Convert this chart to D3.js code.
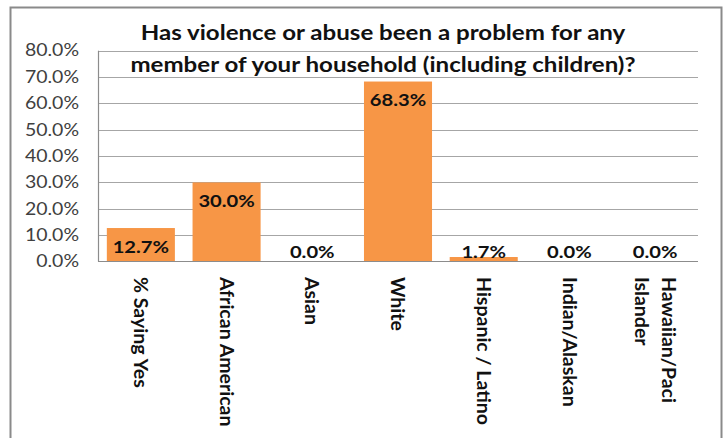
<!DOCTYPE html>
<html>
<head>
<meta charset="utf-8">
<script src="https://cdn.jsdelivr.net/npm/d3@7"></script>
<style>
  html, body { margin: 0; padding: 0; background: #fff; }
  svg { display: block; }
</style>
</head>
<body>
<svg id="chart" width="727" height="438"></svg>
<script>
// Household violence / abuse survey, by group
const categories = [
  ["% Saying Yes"],
  ["African American"],
  ["Asian"],
  ["White"],
  ["Hispanic / Latino"],
  ["Indian/Alaskan"],
  ["Hawaiian/Paci", "Islander"]
];
const values = [12.7, 30.0, 0.0, 68.3, 1.7, 0.0, 0.0];
const tickValues = [0, 10, 20, 30, 40, 50, 60, 70, 80];
const titleLines = [
  "Has violence or abuse been a problem for any",
  "member of your household (including children)?"
];

const svg = d3.select("#chart");
const plot = { left: 98, right: 698, top: 50.7, bottom: 261.5 };
const FONT = "Lato, 'Open Sans', 'DejaVu Sans', sans-serif";

// widen text horizontally by a factor, keeping its height
function widen(sel, k) {
  sel.each(function () {
    const w = this.getComputedTextLength();
    d3.select(this).attr("textLength", w * k).attr("lengthAdjust", "spacingAndGlyphs");
  });
}

// outer chart frame
svg.append("rect")
  .attr("x", 10.5).attr("y", 7.5)
  .attr("width", 711).attr("height", 445)
  .attr("fill", "#fff")
  .attr("stroke", "#8a8a8a")
  .attr("stroke-width", 2);

const x = d3.scaleBand()
  .domain(d3.range(categories.length))
  .range([plot.left, plot.right])
  .paddingInner(0.206)
  .paddingOuter(0.103);

const y = d3.scaleLinear()
  .domain([0, 80])
  .range([plot.bottom, plot.top]);

// horizontal gridlines
svg.append("g")
  .selectAll("line")
  .data(tickValues.filter(t => t > 0))
  .join("line")
  .attr("x1", plot.left).attr("x2", plot.right)
  .attr("y1", d => Math.round(y(d)) + 0.5)
  .attr("y2", d => Math.round(y(d)) + 0.5)
  .attr("stroke", "#a6a6a6")
  .attr("stroke-width", 1);

// value axis
const yAxis = d3.axisLeft(y)
  .tickValues(tickValues)
  .tickSize(0)
  .tickPadding(19)
  .tickFormat(d => d.toFixed(1) + "%");

const gy = svg.append("g")
  .attr("transform", `translate(${plot.left},0)`)
  .call(yAxis);
gy.select(".domain").remove();
gy.selectAll("text")
  .attr("font-family", FONT)
  .attr("font-size", 16.5)
  .attr("fill", "#404040")
  .call(widen, 1.18);

// bars
svg.append("g")
  .selectAll("rect")
  .data(values)
  .join("rect")
  .attr("x", (d, i) => x(i))
  .attr("width", x.bandwidth())
  .attr("y", d => y(d))
  .attr("height", d => y(0) - y(d))
  .attr("fill", "#f79646");

// axis lines
svg.append("line")
  .attr("x1", plot.left + 0.5).attr("x2", plot.left + 0.5)
  .attr("y1", plot.top).attr("y2", plot.bottom)
  .attr("stroke", "#8c8c8c").attr("stroke-width", 1.2);
svg.append("line")
  .attr("x1", plot.left).attr("x2", plot.right)
  .attr("y1", plot.bottom).attr("y2", plot.bottom)
  .attr("stroke", "#8c8c8c").attr("stroke-width", 1.2);

// value labels: inside the top of tall bars, just above the axis for short ones
svg.append("g")
  .selectAll("text")
  .data(values)
  .join("text")
  .attr("x", (d, i) => x(i) + x.bandwidth() / 2)
  .attr("y", d => (y(0) - y(d) < 30 ? y(0) - 10 : y(d) + 18) + 6.5)
  .attr("text-anchor", "middle")
  .attr("font-family", FONT)
  .attr("font-weight", 700)
  .attr("font-size", 17.5)
  .attr("fill", "#111")
  .text(d => d.toFixed(1) + "%")
  .call(widen, 1.15);

// category labels, rotated to read downward
const cat = svg.append("g")
  .selectAll("g")
  .data(categories)
  .join("g")
  .attr("transform", (d, i) => `translate(${x(i) + x.bandwidth() / 2},277) rotate(90)`);
cat.selectAll("text")
  .data(d => d.map((t, j) => ({ t, j, n: d.length })))
  .join("text")
  .attr("x", 0)
  .attr("y", d => (d.j - (d.n - 1) / 2) * 27 + 6.8)
  .attr("font-family", FONT)
  .attr("font-weight", 700)
  .attr("font-size", 19.5)
  .attr("fill", "#111")
  .text(d => d.t);

// title
svg.append("g")
  .selectAll("text")
  .data(titleLines)
  .join("text")
  .attr("x", 383)
  .attr("y", (d, i) => 40 + i * 31.5)
  .attr("text-anchor", "middle")
  .attr("font-family", FONT)
  .attr("font-weight", 700)
  .attr("font-size", 21.5)
  .attr("fill", "#111")
  .text(d => d)
  .call(widen, 1.12);
</script>
</body>
</html>
